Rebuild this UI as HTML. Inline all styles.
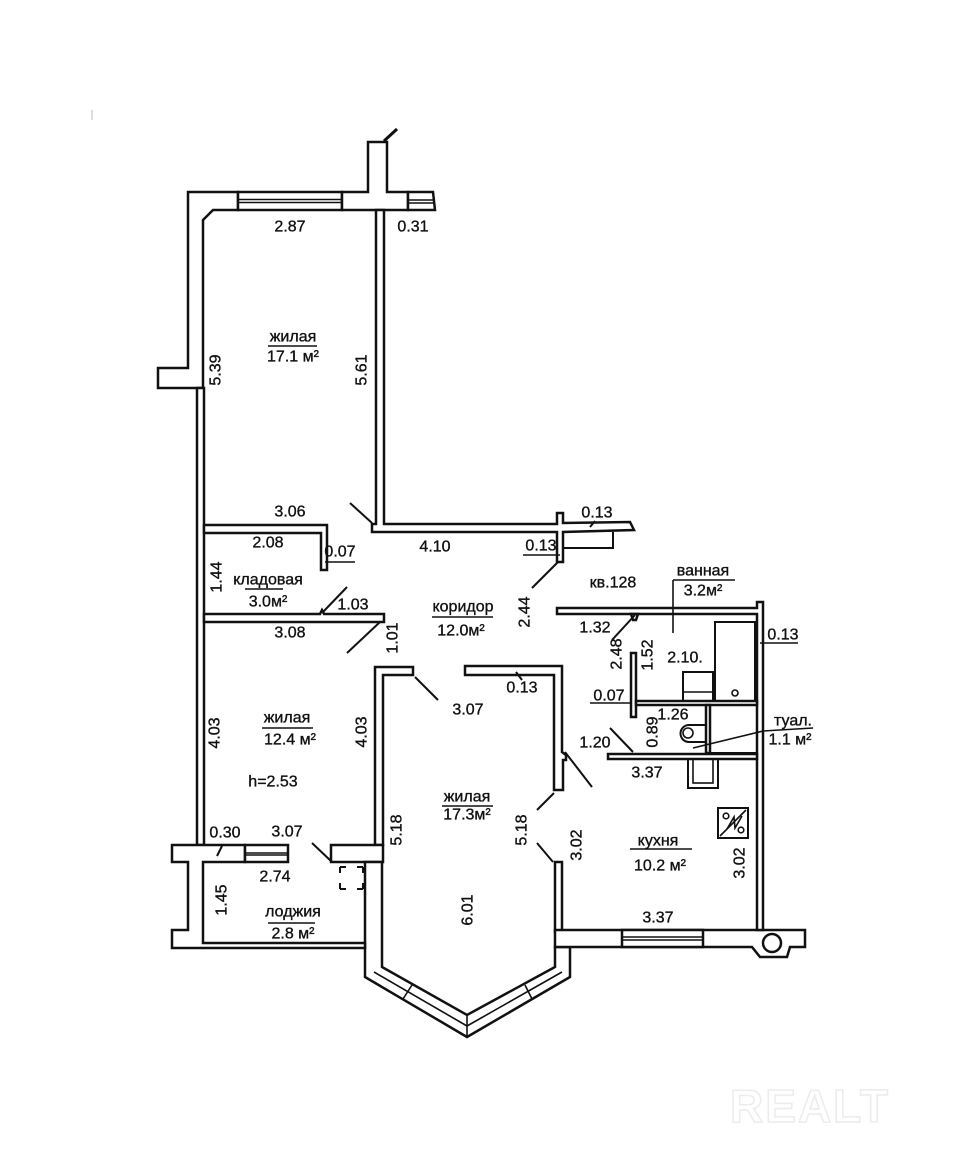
<!DOCTYPE html>
<html><head><meta charset="utf-8"><style>
html,body{margin:0;padding:0;background:#fff;}
svg{display:block;}
text{font-family:"Liberation Sans","DejaVu Sans",sans-serif;font-size:16px;fill:#111;stroke:#111;stroke-width:0.35;}
.w{fill:#fff;stroke:#111;stroke-width:2.5;stroke-linejoin:miter;}
.l{stroke:#111;stroke-width:2;fill:none;}
.t{stroke:#111;stroke-width:1.6;fill:none;}
</style></head><body>
<svg width="954" height="1174" viewBox="0 0 954 1174" xmlns="http://www.w3.org/2000/svg">
<rect width="954" height="1174" fill="#fff"/>
<line x1="92" y1="110" x2="92" y2="120" stroke="#bbb" stroke-width="1"/>

<!-- top-left outer wall -->
<polygon class="w" points="158,368 188,368 188,192 238,192 238,210 213,210 203,220 203,388 158,388"/>
<!-- window top -->
<rect class="w" x="238" y="192" width="104" height="18"/>
<line class="t" x1="238" y1="199.5" x2="342" y2="199.5"/>
<line class="t" x1="238" y1="202.5" x2="342" y2="202.5"/>
<!-- wall with chimney -->
<polygon class="w" points="342,192 368,192 368,142 387,142 387,192 408,192 408,210 342,210"/>
<line x1="384" y1="141" x2="397" y2="129" stroke="#111" stroke-width="3"/>
<!-- small window right -->
<polygon class="w" points="408,192 433,192 435,210 408,210"/>
<line class="t" x1="408" y1="200" x2="434" y2="200"/>
<line class="t" x1="408" y1="203" x2="434" y2="203"/>

<!-- vertical wall + corridor top wall -->
<polygon class="w" points="376,210 384,210 384,524 557,524 557,513 563,513 563,523 630,522 634,530 563,532 563,562 557,562 557,532 372,532 372,524 376,524"/>
<polyline class="l" points="563,548 613,548 613,532"/>

<!-- left thin wall -->
<rect class="w" x="197" y="388" width="7" height="457"/>
<!-- partition 17.1 / кладовая -->
<polygon class="w" points="204,525 327,525 327,570 321,570 321,533 204,533"/>
<!-- кладовая bottom wall -->
<polygon class="w" points="204,614 320,614 322,610 324,614 384,614 384,622 204,622"/>

<!-- 17.3 left wall -->
<polygon class="w" points="375,667 413,667 413,675 383,675 383,845 375,845"/>
<!-- loggia block right -->
<rect class="w" x="331" y="845" width="52" height="17"/>
<!-- bay -->
<polygon class="w" points="365,862 382,862 382,967 467,1015 555,967 555,947 570,947 570,977 467,1037 365,977"/>
<line class="t" x1="374" y1="972" x2="467" y2="1026"/>
<line class="t" x1="467" y1="1026" x2="562" y2="972"/>
<line class="t" x1="412" y1="985" x2="403" y2="999"/>
<line class="t" x1="525" y1="985" x2="532" y2="999"/>
<line class="t" x1="467" y1="1015" x2="467" y2="1037"/>
<!-- 17.3 right wall -->
<polygon class="w" points="465,666 562,666 562,752 566,755 566,760 563,760 563,790 554,790 554,675 465,675"/>
<!-- kitchen left wall -->
<rect class="w" x="555" y="862" width="7" height="70"/>
<!-- kitchen bottom wall -->
<polygon class="w" points="555,930 805,930 805,947 790,947 787,957 760,957 752,947 555,947"/>
<rect class="w" x="622" y="930" width="81" height="17"/>
<line class="t" x1="622" y1="937" x2="703" y2="937"/>
<line class="t" x1="622" y1="940" x2="703" y2="940"/>
<circle class="w" cx="772" cy="943" r="9"/>

<!-- bath top wall + right wall -->
<polygon class="w" points="557,608 757,608 757,602 763,602 763,930 757,930 757,614 557,614"/>
<polygon class="w" points="631,614 638,614 636,620 633,620"/>
<rect class="w" x="631" y="653" width="5" height="64"/>
<rect class="w" x="636" y="701" width="121" height="4"/>
<rect class="w" x="706" y="705" width="4" height="48"/>
<rect class="l" x="710" y="705" width="47" height="48"/>
<rect class="w" x="608" y="754" width="149" height="5"/>
<rect class="l" x="715" y="622" width="40" height="79"/>
<circle class="t" cx="735" cy="693" r="3"/>
<rect class="l" x="683" y="672" width="30" height="29"/>
<line class="t" x1="683" y1="692" x2="713" y2="692"/>
<path class="l" d="M706,725 L689,725 A8.5,8.5 0 0 0 689,742 L706,742"/>
<circle class="t" cx="688" cy="733" r="5"/>
<rect class="l" x="688" y="759" width="30" height="29"/>
<rect class="t" x="693" y="759" width="20" height="24"/>
<!-- meter icon -->
<rect class="l" x="718" y="808" width="30" height="30"/>
<line class="t" x1="720" y1="836" x2="746" y2="810"/>
<polyline class="t" points="727,829 734,817 735,828 742,816"/>
<circle class="t" cx="726" cy="816" r="2.8"/>
<circle class="t" cx="741" cy="830" r="2.8"/>

<!-- loggia -->
<polygon class="w" points="172,845 245,845 245,862 203,862 203,943 365,943 365,948 172,948 172,930 188,930 188,862 172,862"/>
<rect class="w" x="245" y="845" width="43" height="17"/>
<line class="t" x1="245" y1="853" x2="288" y2="853"/>
<line class="t" x1="245" y1="855" x2="288" y2="855"/>
<g class="l">
<line x1="340" y1="873" x2="340" y2="867"/><line x1="340" y1="867" x2="346" y2="867"/>
<line x1="357" y1="867" x2="363" y2="867"/><line x1="363" y1="867" x2="363" y2="873"/>
<line x1="340" y1="883" x2="340" y2="889"/><line x1="340" y1="889" x2="346" y2="889"/>
<line x1="357" y1="889" x2="363" y2="889"/><line x1="363" y1="889" x2="363" y2="883"/>
</g>

<!-- door swings & ticks -->
<g class="l">
<line x1="350" y1="503" x2="372" y2="523"/>
<line x1="323" y1="612" x2="347" y2="587"/>
<line x1="380" y1="622" x2="347" y2="653"/>
<line x1="558" y1="562" x2="532" y2="588"/>
<line x1="635" y1="615" x2="612" y2="640"/>
<line x1="415" y1="677" x2="438" y2="700"/>
<line x1="565" y1="752" x2="592" y2="787"/>
<line x1="554" y1="793" x2="537" y2="810"/>
<line x1="537" y1="843" x2="553" y2="862"/>
<line x1="610" y1="728" x2="633" y2="752"/>
<line x1="312" y1="843" x2="332" y2="862"/>
<line x1="217" y1="856" x2="222" y2="846"/>
<line x1="590" y1="527" x2="595" y2="521"/>
<line x1="516" y1="672" x2="522" y2="680"/>
</g>
<!-- leaders & underlines -->
<g class="t">
<line x1="673" y1="580" x2="673" y2="633"/>
<line x1="673" y1="580" x2="735" y2="580"/>
<polyline points="693,748 763,731 813,728"/>
<line x1="325" y1="562" x2="355" y2="562"/>
<line x1="523" y1="555" x2="560" y2="555"/>
<line x1="590" y1="703" x2="632" y2="703"/>
<line x1="760" y1="643" x2="798" y2="643"/>
<line x1="268" y1="346" x2="317" y2="346"/>
<line x1="245" y1="589" x2="283" y2="589"/>
<line x1="432" y1="617" x2="493" y2="617"/>
<line x1="262" y1="728" x2="313" y2="728"/>
<line x1="442" y1="806" x2="493" y2="806"/>
<line x1="630" y1="849" x2="692" y2="849"/>
<line x1="268" y1="923" x2="315" y2="923"/>
</g>

<!-- texts -->
<g text-anchor="middle" dominant-baseline="central">
<text x="290" y="227">2.87</text>
<text x="413" y="227">0.31</text>
<text x="293" y="337">жилая</text>
<text x="293" y="357">17.1 м²</text>
<text x="290" y="512">3.06</text>
<text x="268" y="543">2.08</text>
<text x="340" y="552">0.07</text>
<text x="435" y="547">4.10</text>
<text x="597" y="513">0.13</text>
<text x="541" y="546">0.13</text>
<text x="613" y="583">кв.128</text>
<text x="703" y="571">ванная</text>
<text x="703" y="591">3.2м²</text>
<text x="268" y="580">кладовая</text>
<text x="268" y="602">3.0м²</text>
<text x="353" y="605">1.03</text>
<text x="463" y="607">коридор</text>
<text x="461" y="631">12.0м²</text>
<text x="595" y="628">1.32</text>
<text x="783" y="635">0.13</text>
<text x="290" y="633">3.08</text>
<text x="685" y="658">2.10.</text>
<text x="609" y="696">0.07</text>
<text x="522" y="688">0.13</text>
<text x="468" y="710">3.07</text>
<text x="673" y="715">1.26</text>
<text x="287" y="718">жилая</text>
<text x="290" y="740">12.4 м²</text>
<text x="793" y="721">туал.</text>
<text x="790" y="740">1.1 м²</text>
<text x="595" y="743">1.20</text>
<text x="647" y="773">3.37</text>
<text x="273" y="782">h=2.53</text>
<text x="467" y="797">жилая</text>
<text x="467" y="815">17.3м²</text>
<text x="225" y="833">0.30</text>
<text x="287" y="832">3.07</text>
<text x="658" y="841">кухня</text>
<text x="660" y="866">10.2 м²</text>
<text x="275" y="877">2.74</text>
<text x="293" y="912">лоджия</text>
<text x="293" y="934">2.8 м²</text>
<text x="658" y="918">3.37</text>

<text x="216" y="370" transform="rotate(-90 216 370)">5.39</text>
<text x="362" y="370" transform="rotate(-90 362 370)">5.61</text>
<text x="217" y="577" transform="rotate(-90 217 577)">1.44</text>
<text x="393" y="638" transform="rotate(-90 393 638)">1.01</text>
<text x="525" y="612" transform="rotate(-90 525 612)">2.44</text>
<text x="617" y="654" transform="rotate(-90 617 654)">2.48</text>
<text x="648" y="655" transform="rotate(-90 648 655)">1.52</text>
<text x="653" y="732" transform="rotate(-90 653 732)">0.89</text>
<text x="215" y="733" transform="rotate(-90 215 733)">4.03</text>
<text x="362" y="732" transform="rotate(-90 362 732)">4.03</text>
<text x="397" y="830" transform="rotate(-90 397 830)">5.18</text>
<text x="522" y="830" transform="rotate(-90 522 830)">5.18</text>
<text x="577" y="845" transform="rotate(-90 577 845)">3.02</text>
<text x="740" y="863" transform="rotate(-90 740 863)">3.02</text>
<text x="468" y="910" transform="rotate(-90 468 910)">6.01</text>
<text x="222" y="900" transform="rotate(-90 222 900)">1.45</text>
</g>
<text x="810" y="1106" text-anchor="middle" dominant-baseline="central" style="font-size:46px;font-weight:bold;fill:#fff;stroke:#ececec;stroke-width:1.5;letter-spacing:2px">REALT</text>
</svg>
</body></html>
